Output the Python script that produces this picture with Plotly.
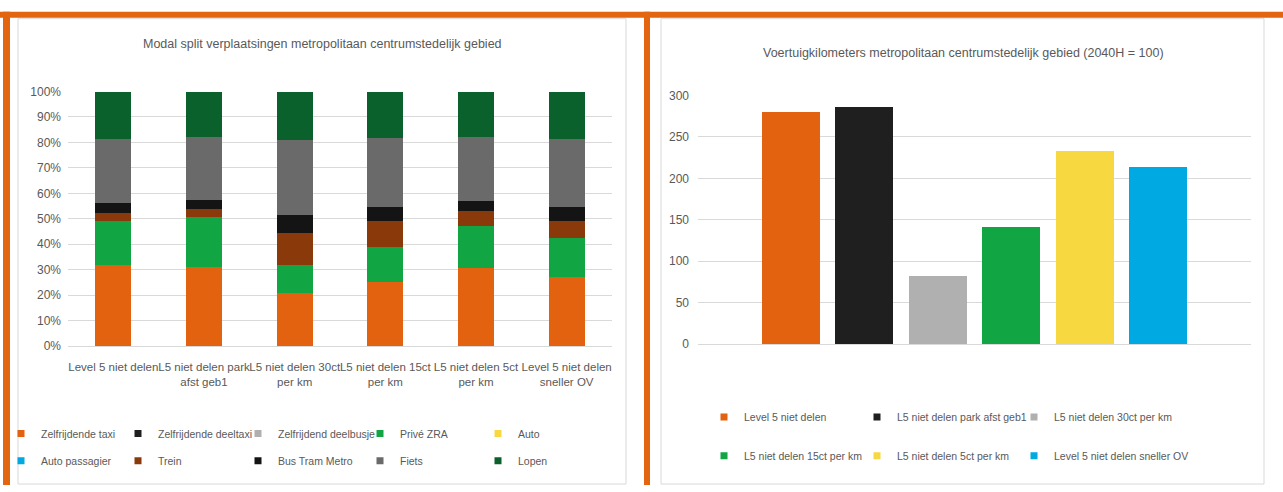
import plotly.graph_objects as go

W, H = 1283, 492

# ---------------- data ----------------
categories = [
    "Level 5 niet delen",
    "L5 niet delen park<br>afst geb1",
    "L5 niet delen 30ct<br>per km",
    "L5 niet delen 15ct<br>per km",
    "L5 niet delen 5ct<br>per km",
    "Level 5 niet delen<br>sneller OV",
]

modes = ["Zelfrijdende taxi", "Zelfrijdende deeltaxi", "Zelfrijdend deelbusje", "Privé ZRA", "Auto",
         "Auto passagier", "Trein", "Bus Tram Metro", "Fiets", "Lopen"]

zelfrijdende_taxi = [31.7, 31.2, 20.9, 25.2, 30.7, 27.0]
zelfrijdende_deeltaxi = [0, 0, 0, 0, 0, 0]
zelfrijdend_deelbusje = [0, 0, 0, 0, 0, 0]
prive_zra = [17.6, 19.5, 10.8, 13.7, 16.3, 15.5]
auto = [0, 0, 0, 0, 0, 0]
auto_passagier = [0, 0, 0, 0, 0, 0]
trein = [3.1, 3.1, 12.9, 10.4, 6.1, 6.8]
bus_tram_metro = [3.7, 3.4, 6.7, 5.5, 3.7, 5.5]
fiets = [25.4, 25.0, 29.8, 27.1, 25.5, 26.5]
lopen = [18.5, 17.8, 18.9, 18.1, 17.7, 18.7]

mode_values = [zelfrijdende_taxi, zelfrijdende_deeltaxi, zelfrijdend_deelbusje, prive_zra, auto,
               auto_passagier, trein, bus_tram_metro, fiets, lopen]

pct_ticks = [0, 10, 20, 30, 40, 50, 60, 70, 80, 90, 100]
pct_labels = ["0%", "10%", "20%", "30%", "40%", "50%", "60%", "70%", "80%", "90%", "100%"]

scenarios = ["Level 5 niet delen", "L5 niet delen park afst geb1", "L5 niet delen 30ct per km",
             "L5 niet delen 15ct per km", "L5 niet delen 5ct per km", "Level 5 niet delen sneller OV"]
voertuigkm = [280, 286, 82, 141, 233, 214]
km_ticks = [0, 50, 100, 150, 200, 250, 300]

# ---------------- styles ----------------
mode_colors = ["#E2620F", "#1F1F1F", "#B0B0B0", "#12A544", "#F7D840",
               "#00A9E2", "#8A3A0A", "#141414", "#6A6A6A", "#0B612C"]
scen_colors = ["#E2620F", "#1F1F1F", "#B0B0B0", "#12A544", "#F7D840", "#00A9E2"]
FONT = "Liberation Sans Narrow, Arial Narrow, Liberation Sans, Arial, sans-serif"
TXT = "#595959"
GRID = "#D9D9D9"
ORANGE = "#E4650F"

# legend column widths (px between entry starts)
left_cols = [117, 120, 122, 118, 140]
right_cols = [153, 157, 210]


def px(x):
    return x / W


def py(y):
    return 1 - y / H


fig = go.Figure()

# left: stacked modal split bars
for name, vals, col in zip(modes, mode_values, mode_colors):
    fig.add_trace(go.Bar(x=categories, y=vals, name=name, marker=dict(color=col, line=dict(width=0)),
                         width=0.4, xaxis="x", yaxis="y", showlegend=False))

# left legend entries (two rows)
for i, (name, col) in enumerate(zip(modes, mode_colors)):
    fig.add_trace(go.Scatter(x=[None], y=[None], mode="markers", name=name,
                             marker=dict(symbol="square", size=7, color=col),
                             legendwidth=left_cols[i % 5] - 45,
                             xaxis="x", yaxis="y", legend="legend" if i < 5 else "legend2"))

# right: vehicle-kilometre bars
fig.add_trace(go.Bar(x=scenarios, y=voertuigkm, marker=dict(color=scen_colors, line=dict(width=0)),
                     width=0.79, xaxis="x2", yaxis="y2", showlegend=False))
for i, (name, col) in enumerate(zip(scenarios, scen_colors)):
    fig.add_trace(go.Scatter(x=[None], y=[None], mode="markers", name=name,
                             marker=dict(symbol="square", size=7, color=col),
                             legendwidth=right_cols[i % 3] - 45,
                             xaxis="x2", yaxis="y2", legend="legend3" if i < 3 else "legend4"))

legend_common = dict(orientation="h", xanchor="left", yanchor="middle", bgcolor="rgba(0,0,0,0)",
                     entrywidthmode="pixels", traceorder="normal")

shapes = [
    # panel borders
    dict(type="rect", x0=px(18), x1=px(626), y0=py(491), y1=py(12), line=dict(color=GRID, width=1)),
    dict(type="rect", x0=px(661), x1=px(1264), y0=py(491), y1=py(12), line=dict(color=GRID, width=1)),
    # orange frame
    dict(type="rect", x0=px(0), x1=px(1283), y0=py(11), y1=py(5), fillcolor=ORANGE, line=dict(width=0)),
    dict(type="rect", x0=px(3), x1=px(10), y0=py(492), y1=py(5), fillcolor=ORANGE, line=dict(width=0)),
    dict(type="rect", x0=px(644), x1=px(650), y0=py(492), y1=py(5), fillcolor=ORANGE, line=dict(width=0)),
]
for s in shapes:
    s.update(xref="paper", yref="paper", layer="below")

fig.update_layout(
    width=W, height=H, autosize=False,
    margin=dict(l=0, r=0, t=0, b=0),
    paper_bgcolor="white", plot_bgcolor="rgba(0,0,0,0)",
    font=dict(family=FONT, size=12, color=TXT),
    barmode="stack",
    showlegend=True,
    xaxis=dict(domain=[px(68), px(612)], type="category", tickangle=0, showgrid=False,
               zeroline=False, showline=False, ticks="", anchor="y", fixedrange=True,
               ticklabelstandoff=12,
               tickfont=dict(family=FONT, size=11.5, color=TXT)),
    yaxis=dict(domain=[py(349), py(87)], range=[0, 100], tickvals=pct_ticks, ticktext=pct_labels,
               anchor="x", showgrid=True, gridcolor=GRID, gridwidth=1, zeroline=True, zerolinecolor=GRID,
               zerolinewidth=1, showline=False, ticks="", ticklabelstandoff=6,
               tickfont=dict(family=FONT, size=12, color=TXT)),
    xaxis2=dict(domain=[px(698), px(1251)], type="category", range=[-1.26, 6.26], showgrid=False,
                anchor="y2", zeroline=False, showline=False, showticklabels=False, ticks=""),
    yaxis2=dict(domain=[py(347), py(91)], range=[0, 300], tickvals=km_ticks, anchor="x2",
                showgrid=True, gridcolor=GRID, gridwidth=1, zeroline=True, zerolinecolor=GRID,
                zerolinewidth=1, showline=False, ticks="", ticklabelstandoff=8,
                tickfont=dict(family=FONT, size=12, color=TXT)),
    legend=dict(legend_common, x=px(1), y=py(439), font=dict(family=FONT, size=10.5, color=TXT)),
    legend2=dict(legend_common, x=px(1), y=py(467), font=dict(family=FONT, size=10.5, color=TXT)),
    legend3=dict(legend_common, x=px(704), y=py(422), font=dict(family=FONT, size=10.5, color=TXT)),
    legend4=dict(legend_common, x=px(704), y=py(462), font=dict(family=FONT, size=10.5, color=TXT)),
    shapes=shapes,
    annotations=[
        dict(text="Modal split verplaatsingen metropolitaan centrumstedelijk gebied", x=px(322), y=py(38),
             xref="paper", yref="paper", showarrow=False, xanchor="center", yanchor="middle",
             font=dict(family=FONT, size=12.5, color=TXT)),
        dict(text="Voertuigkilometers metropolitaan centrumstedelijk gebied (2040H = 100)", x=px(963),
             y=py(47), xref="paper", yref="paper", showarrow=False, xanchor="center", yanchor="middle",
             font=dict(family=FONT, size=12.5, color=TXT)),
    ],
)

css_fix = (
    "var s=document.createElement('style');"
    "s.innerHTML='html,body{margin:0;padding:0;overflow:hidden;background:#ffffff;}';"
    "document.head.appendChild(s);"
)
fig.write_html("out.html", post_script=css_fix, config={"displayModeBar": False, "staticPlot": True})
